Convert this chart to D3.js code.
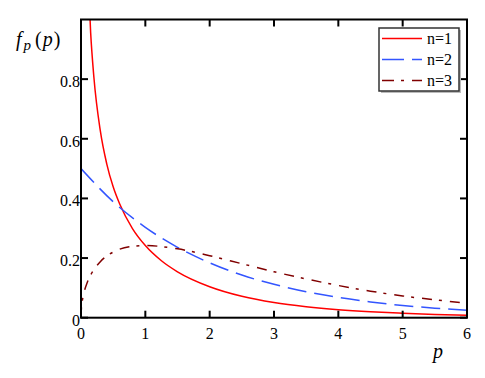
<!DOCTYPE html>
<html>
<head>
<meta charset="utf-8">
<script src="https://cdn.jsdelivr.net/npm/d3@7"></script>
<style>
  body { margin: 0; background: #fff; }
</style>
</head>
<body>
<svg id="chart" width="485" height="378"></svg>
<script>
// values
var p1 = [0.1, 0.15, 0.2, 0.3, 0.4, 0.5, 0.6, 0.8, 1, 1.25, 1.5, 2, 2.5, 3, 3.5, 4, 4.5, 5, 5.5, 6];
var f1 = [1.2, 0.956, 0.807, 0.627, 0.516, 0.439, 0.382, 0.299, 0.242, 0.191, 0.154, 0.104, 0.072, 0.051, 0.037, 0.027, 0.020, 0.015, 0.011, 0.008];
var p2 = [0, 0.5, 1, 1.5, 2, 2.5, 3, 3.5, 4, 4.5, 5, 5.5, 6];
var f2 = [0.5, 0.389, 0.303, 0.236, 0.184, 0.143, 0.112, 0.087, 0.068, 0.053, 0.041, 0.032, 0.025];
var p3 = [0, 0.005, 0.02, 0.05, 0.1, 0.2, 0.3, 0.5, 0.75, 1, 1.5, 2, 2.5, 3, 3.5, 4, 4.5, 5, 5.5, 6];
var f3 = [0, 0.028, 0.056, 0.087, 0.120, 0.161, 0.188, 0.220, 0.238, 0.242, 0.231, 0.208, 0.181, 0.154, 0.130, 0.108, 0.089, 0.073, 0.060, 0.049];
var legendNames = ["n=1", "n=2", "n=3"];
var xTicks = [0, 1, 2, 3, 4, 5, 6];
var yTicks = [0, 0.2, 0.4, 0.6, 0.8];
var yTickLabels = ["0", "0.2", "0.4", "0.6", "0.8"];

var FONT = "Liberation Serif";
var svg = d3.select("#chart");
var x0 = 81, x1 = 467, yTop = 19.5, yBot = 317.7;

var x = d3.scaleLinear().domain([0, 6]).range([x0, x1]);
var y = d3.scaleLinear().domain([0, 1]).range([yBot, yTop]);

var series = [
  { name: legendNames[0], p: p1, f: f1, color: "#ff0000", dash: null },
  { name: legendNames[1], p: p2, f: f2, color: "#3355ff", dash: "19,8" },
  { name: legendNames[2], p: p3, f: f3, color: "#800000", dash: "10,7,3,8" }
];

svg.append("clipPath").attr("id", "clip")
  .append("rect").attr("x", x0).attr("y", yTop)
  .attr("width", x1 - x0).attr("height", yBot - yTop);

var line = d3.line()
  .x(function (d) { return x(d[0]); })
  .y(function (d) { return y(d[1]); })
  .curve(d3.curveMonotoneX);

var plot = svg.append("g").attr("clip-path", "url(#clip)");
series.forEach(function (s) {
  var pts = s.p.map(function (v, i) { return [v, s.f[i]]; });
  plot.append("path")
    .attr("d", line(pts))
    .attr("fill", "none")
    .attr("stroke", s.color)
    .attr("stroke-width", 1.5)
    .attr("stroke-dasharray", s.dash);
});

// frame
svg.append("rect")
  .attr("x", x0).attr("y", yTop)
  .attr("width", x1 - x0).attr("height", yBot - yTop)
  .attr("fill", "none").attr("stroke", "#000").attr("stroke-width", 2);

// ticks (inside, mirrored)
var tk = 7;
xTicks.forEach(function (t) {
  svg.append("line").attr("x1", x(t)).attr("x2", x(t)).attr("y1", yBot).attr("y2", yBot - tk)
    .attr("stroke", "#000").attr("stroke-width", 2);
  svg.append("line").attr("x1", x(t)).attr("x2", x(t)).attr("y1", yTop).attr("y2", yTop + tk)
    .attr("stroke", "#000").attr("stroke-width", 2);
  svg.append("text").attr("x", x(t)).attr("y", 339).attr("font-family", FONT)
    .attr("text-anchor", "middle").attr("font-size", 16).text(t);
});
yTicks.forEach(function (t, i) {
  svg.append("line").attr("x1", x0).attr("x2", x0 + tk).attr("y1", y(t)).attr("y2", y(t))
    .attr("stroke", "#000").attr("stroke-width", 2);
  svg.append("line").attr("x1", x1).attr("x2", x1 - tk).attr("y1", y(t)).attr("y2", y(t))
    .attr("stroke", "#000").attr("stroke-width", 2);
  svg.append("text").attr("x", x0 - 1).attr("y", y(t) + 8).attr("font-family", FONT)
    .attr("text-anchor", "end").attr("font-size", 16).text(yTickLabels[i]);
});

// axis titles
var yl = svg.append("text").attr("x", 16).attr("y", 46).attr("font-size", 20).attr("font-family", FONT);
yl.append("tspan").attr("font-style", "italic").text("f");
yl.append("tspan").attr("font-style", "italic").attr("font-size", 15).attr("dy", 4).attr("dx", 2).text("p");
yl.append("tspan").attr("dy", -4).attr("dx", 4).text("(");
yl.append("tspan").attr("font-style", "italic").attr("dx", 1).text("p");
yl.append("tspan").attr("dx", 1).text(")");

svg.append("text").attr("x", 433).attr("y", 358).attr("font-size", 20).attr("font-family", FONT)
  .attr("font-style", "italic").text("p");

// legend
var lg = svg.append("g");
lg.append("rect").attr("x", 381).attr("y", 30).attr("width", 80).attr("height", 63).attr("fill", "#bbb");
lg.append("rect").attr("x", 379).attr("y", 28).attr("width", 80).attr("height", 63)
  .attr("fill", "#fff").attr("stroke", "#333").attr("stroke-width", 1.5);
series.forEach(function (s, i) {
  var yy = 38.5 + i * 21;
  lg.append("line").attr("x1", 382).attr("x2", 422).attr("y1", yy).attr("y2", yy)
    .attr("stroke", s.color).attr("stroke-width", 1.5)
    .attr("stroke-dasharray", i === 1 ? "22,8" : (i === 2 ? "12,7,3,8" : null));
  lg.append("text").attr("x", 427).attr("y", yy + 5.5).attr("font-size", 16).attr("font-family", FONT).text(s.name);
});
</script>
</body>
</html>
